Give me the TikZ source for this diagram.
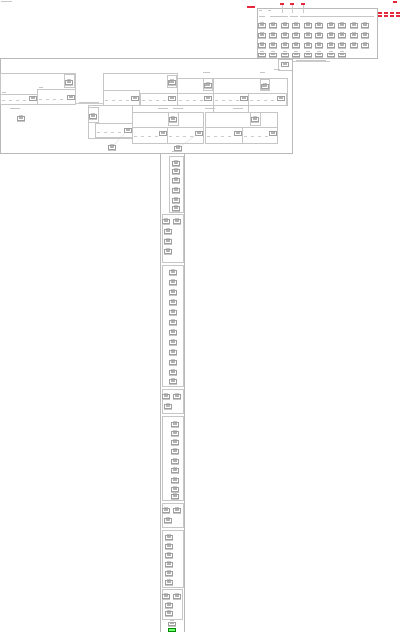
\documentclass[tikz,border=0pt]{standalone}
\usetikzlibrary{calc}
\tikzset{
  cl/.style={draw=gray!55, line width=0.3pt},
  subbox/.style={draw=gray!45, line width=0.25pt},
  nd/.style={draw=gray!75, line width=0.25pt, fill=white, minimum width=7pt, minimum height=3.6pt, inner sep=0pt,
    path picture={\fill[gray!60] ([xshift=1.2pt,yshift=-0.9pt]path picture bounding box.north west) rectangle ([xshift=-1.2pt,yshift=0.9pt]path picture bounding box.south east);}},
  greennd/.style={draw=green!55!black, line width=0.25pt, fill=green!55, minimum width=7pt, minimum height=3.6pt, inner sep=0pt},
  lbl/.style={draw=gray!45, line width=0.55pt},
  errlbl/.style={draw={rgb,255:red,230;green,40;blue,60}, line width=1.1pt},
  conn/.style={draw=gray!40, line width=0.2pt},
  rowdash/.style={draw=gray!40, line width=0.5pt, dash pattern=on 3pt off 4pt},
}
\newcommand{\mk}[3]{%
  \node[nd] (#1) at (#2,#3) {};
  \draw[lbl] ([xshift=-2pt,yshift=1.3pt]#1.north) -- ([xshift=2pt,yshift=1.3pt]#1.north);
  \draw[lbl] ([xshift=-4pt,yshift=-1.3pt]#1.south) -- ([xshift=4pt,yshift=-1.3pt]#1.south);}
\begin{document}
\begin{tikzpicture}[x=1pt,y=-1pt]
\useasboundingbox[fill=white] (0,0) rectangle (400,632);
\draw[lbl] (1,1.5) -- (12,1.5);
% ---------------- top-right cluster ----------------
\draw[cl] (257,8) rectangle (377,58);
\draw[errlbl] (247,7) -- (255,7);
\foreach \x in {280,290,301} {\draw[errlbl] (\x,4) -- (\x+3.5,4); \draw[conn] (\x+1.7,5) -- (\x+1.7,13);}
\draw[errlbl] (393,2) -- (397,2);
\foreach \x in {378,384,390,396} {\draw[errlbl] (\x,13) -- (\x+4,13); \draw[errlbl] (\x,16) -- (\x+4,16);}
\draw[lbl] (259,10.5) -- (262,10.5); \draw[lbl] (268,10.5) -- (271,10.5);
\foreach \x/\w in {262/3,273/3,282/6,294/4,304/4,316/8,333/9,350/9,366/8}
  {\draw[lbl] (\x-\w,16.5) -- (\x+\w,16.5);}
\foreach \i/\x in {1/262,2/273,3/285,4/296,5/308,6/319,7/331,8/342,9/354,10/365} {
  \foreach \j/\y in {1/25,2/35,3/45} {\mk{t\i-\j}{\x}{\y}}
}
\foreach \i/\x in {1/262,2/273,3/285,4/296,5/308,6/319,7/331,8/342} {\mk{t\i-4}{\x}{54.5}}
\draw[subbox] (278,59) rectangle (292,70);
\node[nd] (tb) at (285,64) {};
\draw[conn] (292,61) -- (330,61);
\draw[lbl] (296,60) -- (326,60);
\draw[lbl] (274,69) -- (280,69);
% ---------------- middle big box ----------------
\draw[cl] (0,58) rectangle (292,153);
% cluster A
\draw[subbox] (0,73) rectangle (75,104);
\draw[subbox] (64,74) rectangle (74,87); \mk{a0}{69}{82};
\draw[subbox] (0,94) rectangle (37,104); \draw[rowdash] (2,100) -- (30,100); \node[nd] (a1) at (33,98) {};
\draw[subbox] (37,89) rectangle (75,104); \draw[rowdash] (39,99) -- (66,99); \node[nd] (a2) at (71,97) {};
\draw[lbl] (2,92) -- (6,92); \draw[lbl] (39,87) -- (43,87);
\draw[conn] (75,103.5) -- (103,103.5); \draw[lbl] (79,102.5) -- (99,102.5);
\draw[lbl] (10,108) -- (20,108);
\mk{a3}{21}{118};
% cluster B
\draw[subbox] (103,73) rectangle (177,105);
\draw[subbox] (167,75) rectangle (176,87); \mk{b0}{171.5}{82};
\draw[subbox] (103,90) rectangle (139,105); \draw[rowdash] (105,100) -- (132,100); \node[nd] (b1) at (135,98) {};
\draw[subbox] (140,93) rectangle (177,105); \draw[rowdash] (142,100) -- (168,100); \node[nd] (b2) at (172,98) {};
% cluster D
\draw[subbox] (177,78) rectangle (213,105);
\draw[subbox] (203,78) rectangle (212,90); \mk{d0}{207.5}{85};
\draw[subbox] (177,93) rectangle (213,105); \draw[rowdash] (179,100) -- (204,100); \node[nd] (d1) at (208,98) {};
\draw[lbl] (203,72) -- (210,72);
% cluster E
\draw[subbox] (213,78) rectangle (287,105);
\draw[subbox] (260,79) rectangle (269,90); \mk{e0}{264.5}{86};
\draw[subbox] (213,93) rectangle (248,112); \draw[rowdash] (215,100) -- (240,100); \node[nd] (e1) at (244,98) {};
\draw[subbox] (248,93) rectangle (286,105); \draw[rowdash] (250,100) -- (277,100); \node[nd] (e2) at (281,98) {};
\draw[lbl] (260,72) -- (265,72);
\foreach \x in {158,173,205,233} {\draw[lbl] (\x,108) -- (\x+10,108);}
% cluster C
\draw[subbox] (88,105) rectangle (132,138);
\draw[subbox] (88,107) rectangle (98,122); \mk{c0}{93}{116};
\draw[subbox] (95,123) rectangle (132,137); \draw[rowdash] (97,132) -- (124,132); \node[nd] (c1) at (128,130) {};
\mk{c2}{112}{147};
\draw[conn] (c1) -- (c2);
% cluster F
\draw[subbox] (132,112) rectangle (203,143);
\draw[subbox] (168,112) rectangle (178,125); \mk{f0}{173}{119};
\draw[subbox] (132,127) rectangle (167,143); \draw[rowdash] (134,136) -- (160,136); \node[nd] (f1) at (163,133) {};
\draw[subbox] (167,127) rectangle (203,143); \draw[rowdash] (169,136) -- (195,136); \node[nd] (f2) at (199,133) {};
% cluster G
\draw[subbox] (205,112) rectangle (277,143);
\draw[subbox] (250,112) rectangle (260,125); \mk{g0}{255}{119};
\draw[subbox] (205,127) rectangle (242,143); \draw[rowdash] (207,136) -- (234,136); \node[nd] (g1) at (238,133) {};
\draw[subbox] (242,127) rectangle (277,143); \draw[rowdash] (244,136) -- (269,136); \node[nd] (g2) at (273,133) {};
\mk{m1}{178}{148};
\draw[conn] (f2) -- (m1);
% ---------------- column ----------------
\draw[cl] (160,153) rectangle (184,632);
\draw[lbl] (172,151) -- (182,151);
% S1
\draw[subbox] (169,156) rectangle (183,212);
\foreach \y [count=\k] in {163,171,180,190,200,208} {\mk{s1-\k}{176}{\y}}
% S2
\draw[subbox] (162,214) rectangle (183,262);
\mk{s2-a}{166}{221} \mk{s2-b}{177}{221}
\foreach \y [count=\k] in {231,241,251} {\mk{s2-\k}{168}{\y}}
% S3
\draw[subbox] (162,265) rectangle (183,386);
\foreach \y [count=\k] in {272,282,292,302,312,322,332,342,352,362,372,381} {\mk{s3-\k}{173}{\y}}
% S4
\draw[subbox] (162,389) rectangle (183,413);
\mk{s4-a}{166}{396} \mk{s4-b}{177}{396} \mk{s4-1}{168}{406}
% S5
\draw[subbox] (162,416) rectangle (183,500);
\foreach \y [count=\k] in {424,433,442,451,461,470,480,489,496} {\mk{s5-\k}{175}{\y}}
% S6
\draw[subbox] (162,503) rectangle (183,527);
\mk{s6-a}{166}{510} \mk{s6-b}{177}{510} \mk{s6-1}{168}{520}
% S7
\draw[subbox] (162,530) rectangle (183,587);
\foreach \y [count=\k] in {537,546,555,564,573,582} {\mk{s7-\k}{169}{\y}}
% S8
\draw[subbox] (162,589) rectangle (182,619);
\mk{s8-a}{166}{596} \mk{s8-b}{177}{596}
\foreach \y [count=\k] in {605,613} {\mk{s8-\k}{169}{\y}}
\mk{z1}{172}{623.5}
\node[greennd] (z2) at (172,629.5) {};
\end{tikzpicture}
\end{document}
